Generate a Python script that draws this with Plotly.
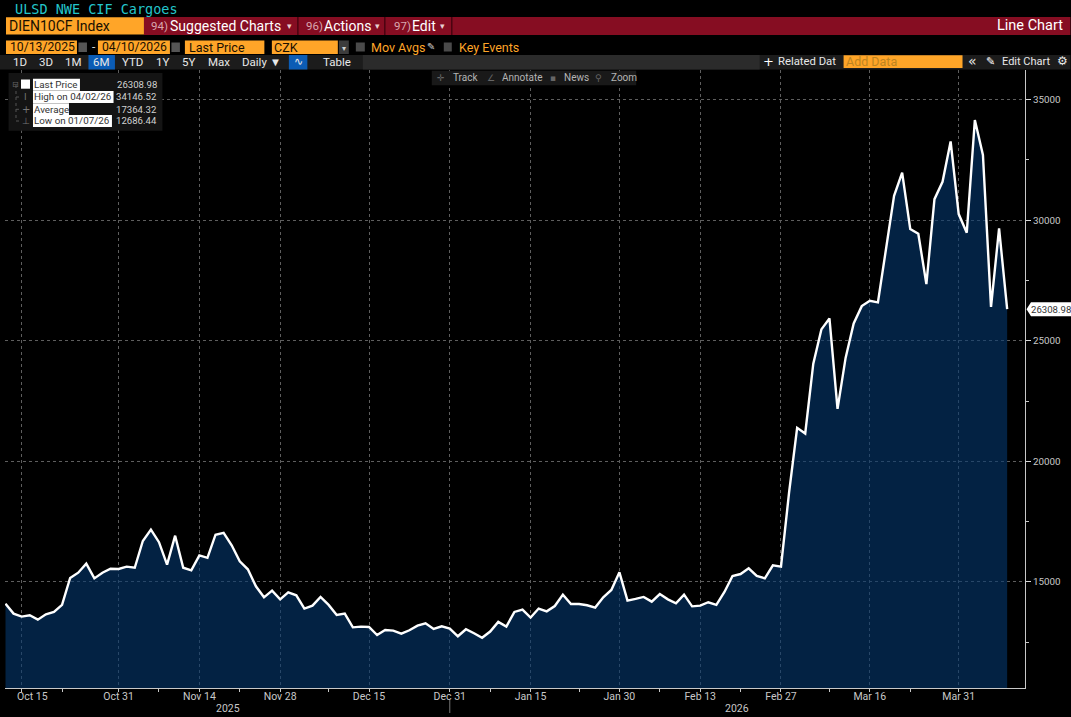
import pandas as pd
import plotly.graph_objects as go

# ---------- data ----------
holidays = ["2025-12-25", "2025-12-26", "2026-01-01", "2026-04-03", "2026-04-06"]
dates = [d for d in pd.bdate_range("2025-10-13", "2026-04-10").strftime("%Y-%m-%d") if d not in holidays]
values = [
    14103, 13689, 13565, 13620, 13440, 13660, 13760, 14050, 15165, 15386,
    15760, 15150, 15386, 15550, 15540, 15635, 15590, 16700, 17170, 16650,
    15720, 16920, 15590, 15480, 16100, 16000, 16960, 17040, 16520, 15855,
    15525, 14820, 14365, 14640, 14280, 14570, 14450, 13900, 14020, 14380,
    14050, 13630, 13690, 13120, 13150, 13135, 12800, 13010, 12985, 12860,
    13000, 13190, 13290, 13055, 13165, 13070, 12750, 13040, 12875, 12686,
    12945, 13345, 13150, 13760, 13855, 13525, 13900, 13785, 14005, 14475,
    14090, 14090, 14035, 13940, 14365, 14670, 15400, 14230, 14300, 14380,
    14185, 14500, 14280, 14115, 14475, 13990, 14020, 14160, 14050, 14585,
    15250, 15330, 15565, 15250, 15150, 15690, 15635, 18700, 21390, 21155,
    24050, 25470, 25925, 22176, 24290, 25720, 26435, 26656, 26590, 28870,
    31007, 31970, 29630, 29435, 27350, 30870, 31590, 33260, 30250, 29475,
    34146.52, 32700, 26400, 29655, 26308.98,
]
major_ticks = ["2025-10-15", "2025-10-31", "2025-11-14", "2025-11-28", "2025-12-15", "2025-12-31",
               "2026-01-15", "2026-01-30", "2026-02-13", "2026-02-27", "2026-03-16", "2026-03-31"]
major_labels = ["", "Oct 31", "Nov 14", "Nov 28", "Dec 15", "Dec 31",
                "Jan 15", "Jan 30", "Feb 13", "Feb 27", "Mar 16", "Mar 31"]
minor_ticks = ["2025-10-22", "2025-11-07", "2025-11-21", "2025-12-08", "2026-01-08", "2026-01-23",
               "2026-02-06", "2026-02-20", "2026-03-09", "2026-03-23"]
y_ticks = [15000, 20000, 25000, 30000, 35000]
y_minor = [12500, 17500, 22500, 27500, 32500]
legend_rows = [("Last Price", "26308.98"), ("High on 04/02/26", "34146.52"),
               ("Average", "17364.32"), ("Low on 01/07/26", "12686.44")]

# ---------- geometry ----------
W, H = 1071, 717
L, R, T, B = 5, 45.5, 70, 29
ORANGE = "#ffa528"
RED = "#860d22"
FONT = "Roboto"
GRID = "#5e5e5e"


def px(x):
    return (x - L) / (W - L - R)


def py(y):
    return (H - B - y) / (H - T - B)


shapes, annotations = [], []


def box(x0, y0, x1, y1, color):
    shapes.append(dict(type="rect", xref="paper", yref="paper", x0=px(x0), x1=px(x1), y0=py(y0), y1=py(y1),
                       fillcolor=color, line_width=0, layer="above"))


def seg(x0, y0, x1, y1, color, width=1, dash="solid"):
    shapes.append(dict(type="line", xref="paper", yref="paper", x0=px(x0), x1=px(x1), y0=py(y0), y1=py(y1),
                       line=dict(color=color, width=width, dash=dash), layer="above"))


def text(x, y, s, color="#e8e8e8", size=11.5, anchor="left", family=FONT, bg=None):
    annotations.append(dict(xref="paper", yref="paper", x=px(x), y=py(y), text=s, showarrow=False,
                            xanchor=anchor, yanchor="middle", borderpad=0,
                            font=dict(color=color, size=size, family=family),
                            bgcolor=bg))


# header: title and red bar
text(14, 9, "ULSD NWE CIF Cargoes", "#24c6cc", 13.5, family="DejaVu Sans Mono")
box(144, 17, W, 35, RED)
box(6, 17.3, 144, 34.5, ORANGE)
text(8.5, 26, "DIEN10CF Index", "#1a1000", 14)
for x in (298, 385, 452):
    seg(x, 17, x, 35, "#4a0410", 1.5)
for x0, num, x1, label, x2 in [(150, "94)", 169, "Suggested Charts", 290),
                               (305, "96)", 323, "Actions", 378),
                               (393, "97)", 411, "Edit", 443)]:
    text(x0, 25.5, num, "#d9a6ae", 11.5)
    text(x1, 25.5, label, "#ffffff", 14)
    text(x2, 26, "▾", "#e8d0d0", 9, "center", "DejaVu Sans")
text(1065, 25.5, "Line Chart", "#ffffff", 14.5, "right")

# date row
box(6, 40.5, 77, 54, ORANGE)
box(98, 40.5, 170, 54, ORANGE)
box(185, 40.5, 264.5, 54, ORANGE)
box(272, 40.5, 338, 54, ORANGE)
box(339, 40.5, 349, 54, "#3c3c3c")
box(78.5, 42.5, 87, 52, "#555555")
box(171.5, 42.5, 180, 52, "#555555")
box(356, 42.5, 365, 51.5, "#4a4a4a")
box(444, 42.5, 452, 51.5, "#4a4a4a")
text(9.5, 47.5, "10/13/2025", "#1a1000", 12.2)
text(94, 47, "-", "#d0d0d0", 12, "center")
text(101, 47.5, "04/10/2026", "#1a1000", 12.2)
text(188, 47.5, "Last Price", "#1a1000", 12.5)
text(273, 47.5, "CZK", "#1a1000", 12.5)
text(344, 48.5, "▾", "#d0d0d0", 8, "center", "DejaVu Sans")
text(370.5, 47.5, "Mov Avgs", ORANGE, 12.5)
text(431, 47, "✎", "#c8c8c8", 10, "center", "DejaVu Sans")
text(458, 47.5, "Key Events", ORANGE, 12.5)

# range toolbar
box(0, 55, W, 69.5, "#1c1c1c")
box(363, 55, 760, 69.5, "#2b2b2b")
box(88.5, 55, 115, 69.5, "#0b5cb5")
box(289, 55, 307.5, 69.5, "#0b5cb5")
for cx, lab in [(19.6, "1D"), (46.5, "3D"), (74, "1M"), (102, "6M"), (132.6, "YTD"), (162.5, "1Y"),
                (189, "5Y"), (219, "Max"), (337, "Table")]:
    text(cx, 62, lab, "#e8e8e8", 11.5, "center")
text(241, 62, "Daily ▼", "#e8e8e8", 11.5)
text(298.2, 62, "∿", "#e8e8e8", 11, "center", "DejaVu Sans")
text(769, 61.5, "+", "#ffffff", 13, "center", "DejaVu Sans")
text(777, 62, "Related Dat", "#e8e8e8", 11.3)
box(844, 55.3, 963, 68, ORANGE)
text(845, 62, "Add Data", "#bd8420", 12.5)
text(973, 61, "«", "#e8e8e8", 14, "center", "DejaVu Sans")
text(991, 62, "✎", "#ffffff", 11, "center", "DejaVu Sans")
text(1001, 62, "Edit Chart", "#e8e8e8", 11)
text(1063, 61.5, "⚙", "#e8e8e8", 12, "center", "DejaVu Sans")

# track toolbar
box(432, 70.7, 636.5, 85.3, "#191919")
for tx, lab in [(452, "Track"), (501, "Annotate"), (563, "News"), (610, "Zoom")]:
    text(tx, 77.5, lab, "#b4b4b4", 10)
text(441, 77.5, "✛", "#666666", 9, "center", "DejaVu Sans")
text(491, 77.5, "∠", "#666666", 9, "center", "DejaVu Sans")
text(553, 77.5, "▪", "#666666", 9, "center", "DejaVu Sans")
text(599, 77.5, "⚲", "#666666", 9, "center", "DejaVu Sans")

# legend panel
box(8.6, 73, 162.5, 130.7, "#141414")
box(21, 79.5, 30, 88.7, "#ffffff")
seg(16, 85, 16, 121, "#555555", 1, "dot")
for yy in (97, 109.3, 121):
    seg(16, yy, 21, yy, "#555555", 1, "dot")
text(16, 84.7, "⊟", "#666666", 8, "center", "DejaVu Sans")
text(26, 97, "I", "#777777", 9, "center", "DejaVu Sans")
text(26, 109.3, "+", "#777777", 10, "center", "DejaVu Sans")
text(26, 121, "⊥", "#777777", 9, "center", "DejaVu Sans")
for (lab, val), yy, x1 in zip(legend_rows, (84.7, 97, 109.3, 121), (80, 113.6, 69, 112)):
    box(33, yy - 6, x1, yy + 6, "#ffffff")
    text(33.5, yy, lab, "#333333", 9.8)
    text(158.5, yy, val, "#d2d2d2", 9.6, "right")

# first tick label sits clear of the window edge; year labels and the boundary mark
text(33, 696, "Oct 15", "#c8c8c8", 10.5, "center")
text(228, 708, "2025", "#c8c8c8", 10.5, "center")
text(737, 708, "2026", "#c8c8c8", 10.5, "center")
seg(450, 700, 450, 713, "#777777", 1)

# last-price tag, anchored to the value on the y axis
shapes.append(dict(type="path", xref="paper", yref="y", xsizemode="pixel", ysizemode="pixel",
                   xanchor=1, yanchor=values[-1], path="M 1.5 0 L 6 -7 L 46 -7 L 46 7 L 6 7 Z",
                   fillcolor="#ffffff", line_width=0, layer="above"))
annotations.append(dict(xref="paper", yref="y", x=px(1030), y=values[-1], text=f"{values[-1]:.2f}", showarrow=False,
                        xanchor="left", yanchor="middle", font=dict(color="#333333", size=9.6, family=FONT)))

# ---------- figure ----------
fig = go.Figure(go.Scatter(x=dates, y=values, mode="lines", fill="tozeroy",
                           fillcolor="rgba(5,56,112,0.6)", line=dict(color="#ffffff", width=2.4),
                           hoverinfo="skip"))
fig.update_layout(
    width=W, height=H, margin=dict(l=L, r=R, t=T, b=B, pad=0),
    paper_bgcolor="#000000", plot_bgcolor="#000000", showlegend=False,
    font=dict(family=FONT, color="#c8c8c8", size=11),
    shapes=shapes, annotations=annotations,
    xaxis=dict(type="date",
               range=["2025-10-10 22:30", "2026-04-14 05:00"],
               rangebreaks=[dict(bounds=["sat", "mon"]), dict(values=holidays, dvalue=86400000)],
               tickmode="array", tickvals=major_ticks, ticktext=major_labels,
               showgrid=True, gridcolor=GRID, griddash="dot", gridwidth=1,
               ticks="outside", ticklen=3, tickcolor="#c8c8c8", tickfont=dict(size=10.5, color="#c8c8c8"),
               ticklabelstandoff=-5,
               showline=True, linecolor="#c8c8c8", linewidth=1, zeroline=False,
               minor=dict(tickmode="array", tickvals=minor_ticks, ticks="outside", ticklen=3,
                          tickcolor="#c8c8c8", showgrid=False)),
    yaxis=dict(range=[10606, 36222], side="right",
               tickmode="array", tickvals=y_ticks, ticktext=[str(v) for v in y_ticks],
               showgrid=True, gridcolor=GRID, griddash="dot", gridwidth=1,
               ticks="outside", ticklen=5, tickcolor="#d8d8d8", tickfont=dict(size=9.8, color="#c8c8c8"),
               showline=True, linecolor="#c8c8c8", linewidth=1, zeroline=False,
               minor=dict(tickmode="array", tickvals=y_minor, ticks="outside", ticklen=3,
                          tickcolor="#c8c8c8", showgrid=False)),
)
fig.write_html("out.html", config=dict(displayModeBar=False),
               post_script="document.body.style.margin='0';document.body.style.background='#000';")
